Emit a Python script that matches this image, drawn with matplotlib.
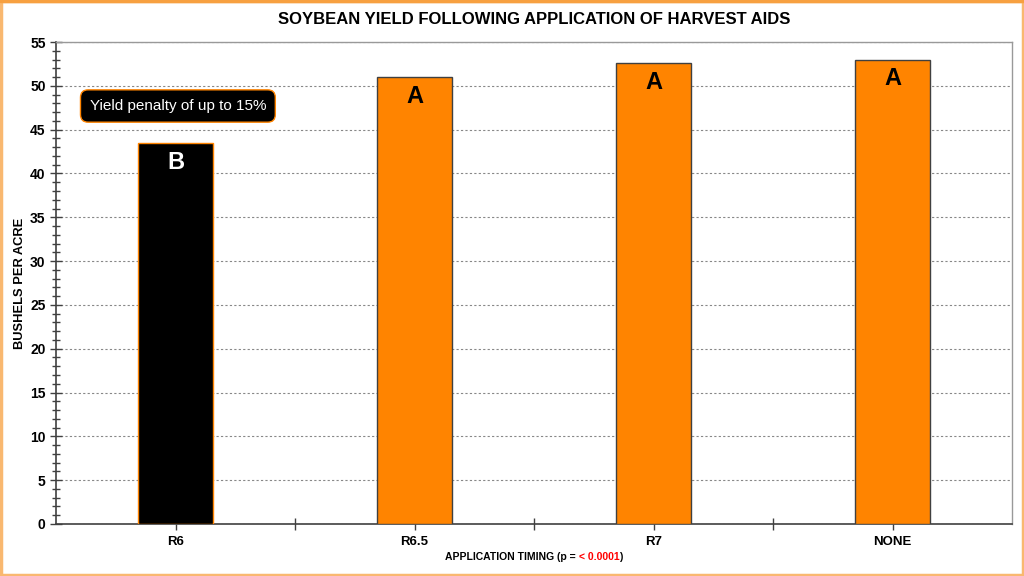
import matplotlib
matplotlib.use("Agg")
import matplotlib.pyplot as plt
from matplotlib.ticker import MultipleLocator, FixedLocator
from matplotlib.offsetbox import TextArea, HPacker, AnnotationBbox
from matplotlib.patches import Rectangle

categories = ["R6", "R6.5", "R7", "NONE"]
yields = [43.5, 51.0, 52.6, 53.0]
letters = ["B", "A", "A", "A"]
bar_colors = ["#000000", "#FF8400", "#FF8400", "#FF8400"]
edge_colors = ["#FF8400", "#404040", "#404040", "#404040"]
letter_colors = ["white", "black", "black", "black"]

plt.rcParams['font.family'] = ['Liberation Sans', 'DejaVu Sans']

fig = plt.figure(figsize=(10.24, 5.76), dpi=100)
ax = fig.add_axes([0.0547, 0.0903, 0.9336, 0.8367])

x = list(range(len(categories)))
ax.bar(x, yields, width=0.31, color=bar_colors, edgecolor=edge_colors, linewidth=1.0, zorder=3)

for xi, yv, lt, lc in zip(x, yields, letters, letter_colors):
    ax.text(xi, yv - 2.2, lt, ha="center", va="center", fontsize=17, fontweight="bold", color=lc, zorder=4)

ax.set_xlim(-0.5, 3.5)
ax.set_ylim(0, 55)
ax.yaxis.set_major_locator(MultipleLocator(5))
ax.yaxis.set_minor_locator(MultipleLocator(1))
ax.set_xticks(x)
ax.set_xticklabels(categories, fontsize=9.5, fontweight="bold")
ax.xaxis.set_minor_locator(FixedLocator([0.5, 1.5, 2.5]))
ax.tick_params(axis="x", which="major", direction="out", length=4, width=1, color="#404040", pad=5)
ax.tick_params(axis="x", which="minor", direction="inout", length=8, width=1, color="#404040")
ax.tick_params(axis="y", which="major", direction="inout", length=8, width=1, color="#404040", labelsize=10)
ax.tick_params(axis="y", which="minor", direction="inout", length=6, width=1, color="#404040")
for lab in ax.get_yticklabels():
    lab.set_fontweight("bold")

ax.grid(axis="y", which="major", linestyle=(0, (2, 2)), color="#888888", linewidth=0.8, zorder=0)
ax.set_axisbelow(True)
for s in ["left", "bottom"]:
    ax.spines[s].set_color("#404040")
    ax.spines[s].set_linewidth(1.2)
for s in ["top", "right"]:
    ax.spines[s].set_color("#999999")
    ax.spines[s].set_linewidth(1.0)

ax.set_ylabel("BUSHELS PER ACRE", fontsize=9.3, fontweight="bold", labelpad=3)

fig.text(0.5215, 0.966, "SOYBEAN YIELD FOLLOWING APPLICATION OF HARVEST AIDS",
         ha="center", va="center", fontsize=12, fontweight="bold")

# x label with red part
t1 = TextArea("APPLICATION TIMING (p = ", textprops=dict(fontsize=7.5, fontweight="bold", color="black"))
t2 = TextArea("< 0.0001", textprops=dict(fontsize=7.5, fontweight="bold", color="red"))
t3 = TextArea(")", textprops=dict(fontsize=7.5, fontweight="bold", color="black"))
pack = HPacker(children=[t1, t2, t3], align="baseline", pad=0, sep=0)
ab = AnnotationBbox(pack, (0.5215, 1 - 557 / 576), xycoords="figure fraction",
                    frameon=False, box_alignment=(0.5, 0.5))
fig.add_artist(ab)

# annotation box
ax.text(0.01, 47.7, "Yield penalty of up to 15%", ha="center", va="center", fontsize=11,
        color="white", zorder=5,
        bbox=dict(boxstyle="round,pad=0.6,rounding_size=0.5", facecolor="black", edgecolor="#FF8400", linewidth=1))

# figure border
fig.add_artist(Rectangle((0.001, 0.001), 0.998, 0.997, transform=fig.transFigure, fill=False,
                         edgecolor="#F9B870", linewidth=2.5))
fig.add_artist(Rectangle((0, 0.996), 1, 0.004, transform=fig.transFigure, color="#F7A040"))

fig.savefig("out.png", dpi=100)
